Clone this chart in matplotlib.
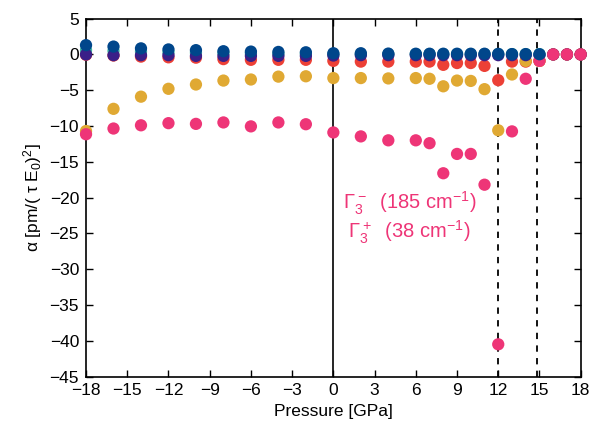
"""Polarizability of the Gamma_3 modes versus pressure."""

import matplotlib
matplotlib.use('Agg')
import matplotlib.pyplot as plt
import numpy as np

plt.rcParams['font.family'] = ['Liberation Sans', 'DejaVu Sans']
plt.rcParams['mathtext.default'] = 'regular'

nan = np.nan

# Pressure grid [GPa]
pressure = [-18, -16, -14, -12, -10, -8, -6, -4, -2, 0, 2, 4, 6, 7, 8, 9,
            10, 11, 12, 13, 14, 15, 16, 17, 18]

# alpha components [pm/(tau E0)^2]
alpha_red = [-0.05, -0.15, -0.3, -0.4, -0.45, -0.65, -0.75, -0.75, -0.75,
             -0.9, -1.0, -1.0, -1.0, -1.0, -1.45, -1.2, -1.2, -1.6, -3.6,
             -1.0, -1.0, -0.9, 0.0, 0.0, 0.0]
alpha_yellow = [-10.7, -7.6, -5.9, -4.8, -4.2, -3.65, -3.5, -3.1, -3.05,
                -3.3, -3.3, -3.35, -3.3, -3.4, -4.45, -3.65, -3.7, -4.85,
                -10.6, -2.8, -0.9, -0.9, 0.0, 0.0, 0.0]
alpha_teal = [0.6, 0.5, 0.4, 0.3, 0.25, 0.2, 0.15, 0.1, 0.1, 0.05, 0.05,
              0.05, 0.05, 0.05, 0.05, 0.05, 0.05, 0.05, 0.05, 0.05, 0.05,
              0.05, nan, nan, nan]
alpha_purple = [0.0, -0.1, -0.1, -0.1, -0.2, -0.2, -0.2, -0.2, -0.2, -0.15,
                -0.1, -0.1, -0.1, -0.1, -0.1, -0.1, -0.1, -0.1, -0.1, -0.1,
                -0.1, -0.1, 0.0, 0.0, 0.0]
alpha_pink = [-11.15, -10.35, -9.9, -9.6, -9.7, -9.5, -10.05, -9.5, -9.75,
              -10.9, -11.45, -12.0, -12.0, -12.4, -16.6, -13.9, -13.9,
              -18.2, -40.5, -10.75, -3.4, -0.9, 0.0, 0.0, 0.0]
alpha_blue = [1.3, 1.1, 0.85, 0.7, 0.6, 0.45, 0.4, 0.35, 0.3, 0.17, 0.17,
              0.12, 0.1, 0.1, 0.1, 0.1, 0.1, 0.1, 0.08, 0.05, 0.05, 0.03,
              nan, nan, nan]

# Phase boundaries [GPa]
boundaries = [12.0, 14.8]

series = [
    (alpha_red, '#ec4036'),
    (alpha_yellow, '#e0a933'),
    (alpha_teal, '#3fb8a0'),
    (alpha_purple, '#3a1f88'),
    (alpha_pink, '#ee3577'),
    (alpha_blue, '#00468b'),
]

fig = plt.figure(figsize=(6.02, 4.30), dpi=100)
axes = fig.add_axes([0.1429, 0.1244, 0.8217, 0.8322])

for values, color in series:
    axes.scatter(pressure, values, s=78, color=color, edgecolors='none',
                 zorder=3, clip_on=False)

axes.axvline(0.0, color='black', lw=1.2, zorder=1)
for pos in boundaries:
    axes.axvline(pos, color='black', lw=1.3, ls=(0, (3.5, 3.5)), zorder=1)

axes.text(5.55, -20.8, r'$\Gamma_3^-$  (185 cm$^{-1}$)', color='#ee3577',
          fontsize=14.5, ha='center', va='center')
axes.text(5.55, -24.8, r'$\Gamma_3^+$  (38 cm$^{-1}$)', color='#ee3577',
          fontsize=14.5, ha='center', va='center')

# Appearance
axes.set_xlim(-18, 18)
axes.set_ylim(-45, 5)
axes.set_xticks(np.arange(-18, 19, 3))
axes.set_yticks(np.arange(-45, 6, 5))
axes.set_xticklabels([str(t).replace('-', '\u2212')
                      for t in range(-18, 19, 3)])
axes.set_yticklabels([str(t).replace('-', '\u2212')
                      for t in range(-45, 6, 5)])
axes.tick_params(direction='in', top=True, right=True, length=5, width=1.0,
                 labelsize=12.5, pad=5)
for spine in axes.spines.values():
    spine.set_linewidth(1.2)
axes.set_xlabel('Pressure [GPa]', fontsize=12.5, labelpad=4)
axes.set_ylabel('\u03b1 [pm/( \u03c4 E$_0$)$^2$]', fontsize=12.5,
                labelpad=4)

fig.savefig('out.png', dpi=100)
plt.close(fig)
